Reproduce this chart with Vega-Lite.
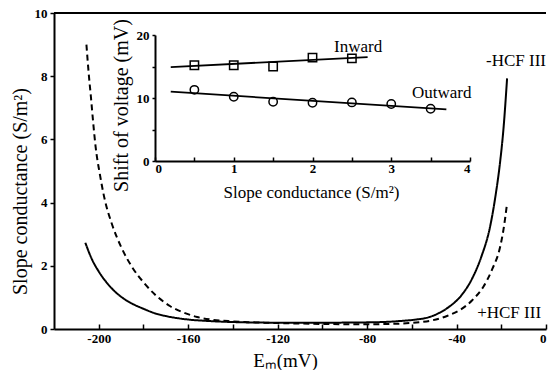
{
  "$schema": "https://vega.github.io/schema/vega-lite/v6.json",
  "width": 492,
  "height": 316,
  "autosize": {"type": "none"},
  "padding": {"left": 54, "top": 13, "right": 3, "bottom": 41},
  "background": "white",
  "config": {
    "font": "Liberation Serif",
    "view": {"stroke": null},
    "axis": {
      "grid": false,
      "domainColor": "black",
      "domainWidth": 2,
      "tickColor": "black",
      "tickWidth": 1.5,
      "labelFont": "Liberation Serif",
      "labelFontWeight": "bold",
      "labelColor": "black",
      "titleFont": "Liberation Serif",
      "titleFontWeight": "normal",
      "titleColor": "black"
    }
  },
  "layer": [
    {
      "layer": [
        {
          "data": {
            "values": [
              {"E": -206, "G": 2.73, "series": "-HCF III"},
              {"E": -203, "G": 2.2, "series": "-HCF III"},
              {"E": -200, "G": 1.82, "series": "-HCF III"},
              {"E": -195, "G": 1.35, "series": "-HCF III"},
              {"E": -190, "G": 1.02, "series": "-HCF III"},
              {"E": -185, "G": 0.8, "series": "-HCF III"},
              {"E": -180, "G": 0.64, "series": "-HCF III"},
              {"E": -175, "G": 0.5, "series": "-HCF III"},
              {"E": -170, "G": 0.41, "series": "-HCF III"},
              {"E": -160, "G": 0.3, "series": "-HCF III"},
              {"E": -150, "G": 0.25, "series": "-HCF III"},
              {"E": -140, "G": 0.22, "series": "-HCF III"},
              {"E": -120, "G": 0.2, "series": "-HCF III"},
              {"E": -100, "G": 0.2, "series": "-HCF III"},
              {"E": -80, "G": 0.21, "series": "-HCF III"},
              {"E": -70, "G": 0.23, "series": "-HCF III"},
              {"E": -64, "G": 0.26, "series": "-HCF III"},
              {"E": -58, "G": 0.3, "series": "-HCF III"},
              {"E": -53, "G": 0.36, "series": "-HCF III"},
              {"E": -48, "G": 0.5, "series": "-HCF III"},
              {"E": -43, "G": 0.72, "series": "-HCF III"},
              {"E": -38, "G": 1.05, "series": "-HCF III"},
              {"E": -33, "G": 1.6, "series": "-HCF III"},
              {"E": -29, "G": 2.27, "series": "-HCF III"},
              {"E": -25, "G": 3.24, "series": "-HCF III"},
              {"E": -22.5, "G": 4.25, "series": "-HCF III"},
              {"E": -20.5, "G": 5.3, "series": "-HCF III"},
              {"E": -19, "G": 6.35, "series": "-HCF III"},
              {"E": -17.4, "G": 7.93, "series": "-HCF III"},
              {"E": -205.5, "G": 9.0, "series": "+HCF III"},
              {"E": -204.5, "G": 8.1, "series": "+HCF III"},
              {"E": -203.5, "G": 7.35, "series": "+HCF III"},
              {"E": -202.5, "G": 6.55, "series": "+HCF III"},
              {"E": -201.4, "G": 5.77, "series": "+HCF III"},
              {"E": -199.5, "G": 4.9, "series": "+HCF III"},
              {"E": -197.6, "G": 4.19, "series": "+HCF III"},
              {"E": -194, "G": 3.3, "series": "+HCF III"},
              {"E": -190, "G": 2.6, "series": "+HCF III"},
              {"E": -185, "G": 1.95, "series": "+HCF III"},
              {"E": -180, "G": 1.48, "series": "+HCF III"},
              {"E": -175, "G": 1.1, "series": "+HCF III"},
              {"E": -168, "G": 0.72, "series": "+HCF III"},
              {"E": -162, "G": 0.52, "series": "+HCF III"},
              {"E": -156, "G": 0.38, "series": "+HCF III"},
              {"E": -150, "G": 0.3, "series": "+HCF III"},
              {"E": -140, "G": 0.24, "series": "+HCF III"},
              {"E": -120, "G": 0.19, "series": "+HCF III"},
              {"E": -100, "G": 0.16, "series": "+HCF III"},
              {"E": -80, "G": 0.15, "series": "+HCF III"},
              {"E": -70, "G": 0.16, "series": "+HCF III"},
              {"E": -62.5, "G": 0.18, "series": "+HCF III"},
              {"E": -56, "G": 0.22, "series": "+HCF III"},
              {"E": -50.5, "G": 0.28, "series": "+HCF III"},
              {"E": -44, "G": 0.42, "series": "+HCF III"},
              {"E": -38.5, "G": 0.6, "series": "+HCF III"},
              {"E": -33, "G": 0.91, "series": "+HCF III"},
              {"E": -28, "G": 1.34, "series": "+HCF III"},
              {"E": -24, "G": 1.9, "series": "+HCF III"},
              {"E": -20.5, "G": 2.6, "series": "+HCF III"},
              {"E": -19, "G": 3.15, "series": "+HCF III"},
              {"E": -17.6, "G": 3.87, "series": "+HCF III"}
            ]
          },
          "mark": {"type": "line", "color": "black", "strokeWidth": 2, "interpolate": "monotone"},
          "encoding": {
            "x": {
              "field": "E", "type": "quantitative",
              "scale": {"domain": [-220, 0], "nice": false, "zero": false},
              "axis": {
                "orient": "bottom",
                "values": [-200, -180, -160, -140, -120, -100, -80, -60, -40, -20, 0],
                "labelExpr": "datum.value % 40 == 0 ? '' + datum.value : ''",
                "tickSize": -5,
                "labelFontSize": 13,
                "labelPadding": 8,
                "title": "Eₘ(mV)",
                "titleFontSize": 19,
                "titleX": 231,
                "titleY": 31,
                "titleBaseline": "middle"
              }
            },
            "y": {
              "field": "G", "type": "quantitative",
              "scale": {"domain": [0, 10], "nice": false},
              "axis": {
                "orient": "left",
                "values": [0, 1, 2, 3, 4, 5, 6, 7, 8, 9, 10],
                "labelExpr": "datum.value % 2 == 0 ? '' + datum.value : ''",
                "tickSize": 4,
                "labelFontSize": 13,
                "labelPadding": 3,
                "title": "Slope conductance (S/m²)",
                "titleFontSize": 20,
                "titleX": -34,
                "titleY": 178,
                "titleBaseline": "middle"
              }
            },
            "strokeDash": {
              "field": "series", "type": "nominal",
              "scale": {"domain": ["-HCF III", "+HCF III"], "range": [[1, 0], [6, 4]]},
              "legend": null
            },
            "detail": {"field": "series"}
          }
        },
        {
          "data": {"values": [{"G": 10}]},
          "mark": {"type": "rule", "color": "black", "strokeWidth": 2},
          "encoding": {"y": {"field": "G", "type": "quantitative"}}
        },
        {
          "data": {
            "values": [
              {"E": -13.4, "G": 8.48, "label": "-HCF III"},
              {"E": -16.5, "G": 0.51, "label": "+HCF III"}
            ]
          },
          "mark": {"type": "text", "fontSize": 17, "font": "Liberation Serif", "color": "black", "align": "center", "baseline": "middle"},
          "encoding": {
            "x": {"field": "E", "type": "quantitative"},
            "y": {"field": "G", "type": "quantitative"},
            "text": {"field": "label"}
          }
        }
      ]
    },
    {
      "layer": [
        {
          "data": {
            "values": [
              {"c": 0.2, "s": 14.9, "set": "Inward"},
              {"c": 2.7, "s": 16.5, "set": "Inward"},
              {"c": 0.2, "s": 11.0, "set": "Outward"},
              {"c": 3.7, "s": 8.2, "set": "Outward"}
            ]
          },
          "mark": {"type": "line", "color": "black", "strokeWidth": 1.8},
          "encoding": {
            "x": {
              "field": "c", "type": "quantitative",
              "scale": {"domain": [0, 4], "range": [101, 416], "nice": false},
              "axis": {
                "orient": "bottom",
                "offset": -168,
                "values": [0, 0.5, 1, 1.5, 2, 2.5, 3, 3.5, 4],
                "labelExpr": "datum.value % 1 == 0 ? '' + datum.value : ''",
                "tickSize": -4,
                "labelFontSize": 13,
                "labelPadding": 5,
                "title": "Slope conductance (S/m²)",
                "titleFontSize": 17,
                "titleX": 257,
                "titleY": 31,
                "titleBaseline": "middle"
              }
            },
            "y": {
              "field": "s", "type": "quantitative",
              "scale": {"domain": [0, 20], "range": [148, 22], "nice": false},
              "axis": {
                "orient": "left",
                "offset": -101,
                "values": [0, 5, 10, 15, 20],
                "labelExpr": "datum.value % 10 == 0 ? '' + datum.value : ''",
                "tickSize": 3,
                "labelFontSize": 13,
                "labelPadding": 3,
                "title": "Shift of voltage (mV)",
                "titleFontSize": 20,
                "titleX": -34,
                "titleY": 92,
                "titleBaseline": "middle"
              }
            },
            "detail": {"field": "set"}
          }
        },
        {
          "data": {
            "values": [
              {"c": 0.5, "s": 15.2, "set": "Inward"},
              {"c": 1.0, "s": 15.2, "set": "Inward"},
              {"c": 1.5, "s": 15.0, "set": "Inward"},
              {"c": 2.0, "s": 16.4, "set": "Inward"},
              {"c": 2.5, "s": 16.3, "set": "Inward"},
              {"c": 0.5, "s": 11.3, "set": "Outward"},
              {"c": 1.0, "s": 10.2, "set": "Outward"},
              {"c": 1.5, "s": 9.4, "set": "Outward"},
              {"c": 2.0, "s": 9.25, "set": "Outward"},
              {"c": 2.5, "s": 9.3, "set": "Outward"},
              {"c": 3.0, "s": 9.05, "set": "Outward"},
              {"c": 3.5, "s": 8.3, "set": "Outward"}
            ]
          },
          "mark": {"type": "point", "filled": false, "color": "black", "strokeWidth": 1.5, "opacity": 1},
          "encoding": {
            "x": {"field": "c", "type": "quantitative"},
            "y": {"field": "s", "type": "quantitative"},
            "shape": {
              "field": "set", "type": "nominal",
              "scale": {"domain": ["Inward", "Outward"], "range": ["square", "circle"]},
              "legend": null
            },
            "size": {"value": 70}
          }
        },
        {
          "data": {
            "values": [
              {"c": 2.58, "s": 18.1, "label": "Inward"},
              {"c": 3.64, "s": 10.8, "label": "Outward"}
            ]
          },
          "mark": {"type": "text", "fontSize": 17, "font": "Liberation Serif", "color": "black", "align": "center", "baseline": "middle"},
          "encoding": {
            "x": {"field": "c", "type": "quantitative"},
            "y": {"field": "s", "type": "quantitative"},
            "text": {"field": "label"}
          }
        }
      ]
    }
  ],
  "resolve": {"scale": {"x": "independent", "y": "independent"}}
}
